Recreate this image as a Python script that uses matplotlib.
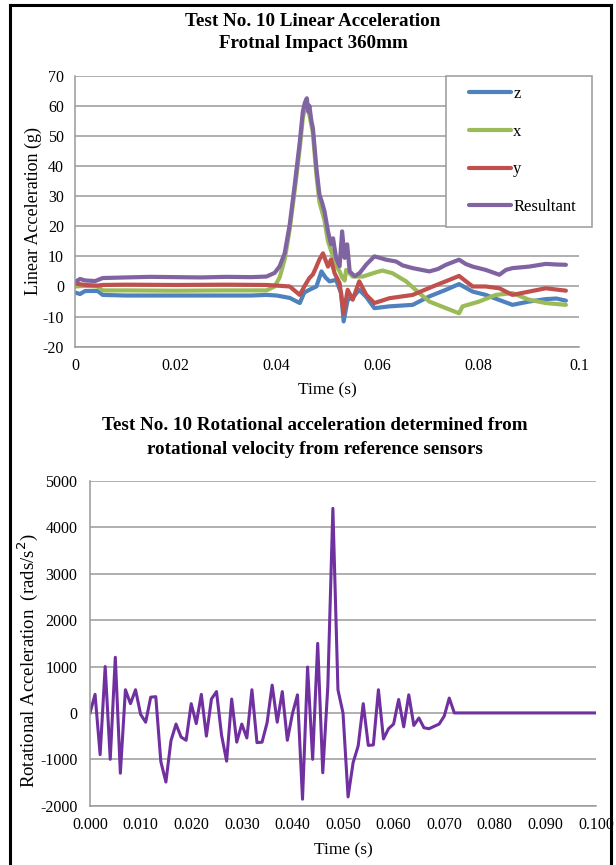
import matplotlib
matplotlib.use('Agg')
import matplotlib.pyplot as plt
from matplotlib.lines import Line2D
from matplotlib.patches import Rectangle

plt.rcParams['font.family'] = ['Liberation Serif', 'DejaVu Serif']
plt.rcParams['axes.unicode_minus'] = False

# ---- top chart: linear acceleration (g) ----
t_z = [0, 0.001, 0.002, 0.0045, 0.0055, 0.010, 0.020, 0.030, 0.035, 0.038, 0.040,
       0.0426, 0.0446, 0.0455, 0.0465, 0.0479, 0.0489, 0.0497, 0.0505, 0.0518, 0.0528,
       0.0533, 0.0541, 0.0552, 0.0564, 0.0578, 0.0594, 0.0624, 0.067, 0.0703, 0.0736,
       0.0762, 0.0789, 0.0815, 0.0842, 0.0868, 0.0901, 0.0934, 0.0955, 0.0974]
z_vals = [-2, -2.5, -1.5, -1.5, -2.8, -3, -3, -3, -3, -2.8, -3,
          -3.8, -5.5, -2, -1.1, 0, 5, 3, 1.7, 2.2, -2.2,
          -11.6, -4.4, -3.5, -1.1, -3.5, -7.2, -6.6, -6.1, -3.3, -1.1,
          0.8, -1.7, -2.8, -4.5, -6.1, -5, -4.2, -4.0, -4.7]

t_x = [0, 0.002, 0.0045, 0.0055, 0.010, 0.020, 0.030, 0.038, 0.0396, 0.0406, 0.0416,
       0.0426, 0.0436, 0.0446, 0.0452, 0.0456, 0.046, 0.0465, 0.0472, 0.0479, 0.0485,
       0.0495, 0.0502, 0.0508, 0.0518, 0.0525, 0.053, 0.0535, 0.0538, 0.0551, 0.0571,
       0.0597, 0.061, 0.063, 0.0657, 0.0683, 0.0703, 0.0736, 0.0762, 0.0769, 0.0802,
       0.0835, 0.0868, 0.0901, 0.0934, 0.0974]
x_vals = [0, 0.2, 0, -1.3, -1.3, -1.4, -1.3, -1.3, 0, 3, 9,
          19, 32, 46, 56, 59, 61, 57, 51, 37, 28,
          22, 15, 12, 7, 5, 3, 2, 5.5, 3.3, 3.3,
          4.7, 5.3, 4.4, 1.7, -2.2, -5, -7.2, -8.9, -6.6, -5,
          -2.8, -2.2, -4.4, -5.5, -6.1]

t_y = [0, 0.002, 0.0045, 0.0055, 0.010, 0.020, 0.030, 0.038, 0.040, 0.0426, 0.0446,
       0.0455, 0.0465, 0.0472, 0.0479, 0.0485, 0.0492, 0.0502, 0.0508, 0.0515, 0.0525,
       0.0533, 0.0541, 0.0551, 0.0564, 0.0578, 0.0594, 0.0624, 0.067, 0.071, 0.0762,
       0.0789, 0.0815, 0.0842, 0.0868, 0.0901, 0.0934, 0.0974]
y_vals = [1, 0.5, 0.3, 0.5, 0.6, 0.5, 0.6, 0.5, 0.3, 0, -2.8,
          0, 2.8, 4, 6.6, 9, 11, 6.6, 9, 4.4, 1.1,
          -8.9, -1.1, -4.4, 1.7, -2.8, -5.5, -3.9, -2.8, 0, 3.5,
          0, 0, -0.6, -2.8, -1.7, -0.6, -1.4]

t_res = [0, 0.001, 0.002, 0.004, 0.0055, 0.010, 0.015, 0.020, 0.025, 0.030, 0.035,
         0.038, 0.0396, 0.0406, 0.0416, 0.0426, 0.0436, 0.0446, 0.0452, 0.0456, 0.046,
         0.0463, 0.0465, 0.0469, 0.0472, 0.0476, 0.0479, 0.0485, 0.049, 0.0495, 0.0502,
         0.0508, 0.0512, 0.0518, 0.0525, 0.053, 0.0535, 0.054, 0.0545, 0.0555, 0.0565,
         0.0578, 0.0594, 0.0605, 0.0617, 0.0637, 0.065, 0.067, 0.0703, 0.072, 0.0736,
         0.0762, 0.0775, 0.0789, 0.0815, 0.0842, 0.0855, 0.0868, 0.0901, 0.0934, 0.0955,
         0.0974]
res_vals = [1.5, 2.5, 2, 1.8, 2.8, 3, 3.2, 3.1, 3, 3.2, 3.1,
            3.3, 4.5, 6.7, 11, 20.5, 33.8, 48, 58, 61, 62.5,
            58, 60, 55, 52.6, 45, 39.3, 30.5, 28, 25, 18.3,
            14, 16, 9.5, 6.7, 18.3, 9.5, 14, 5, 3.4, 4.5,
            7.3, 10, 9.5, 8.9, 8.3, 7, 6.1, 5, 5.8, 7.2,
            8.9, 7.5, 6.6, 5.5, 3.9, 5.5, 6.1, 6.6, 7.5, 7.3,
            7.2]

series_labels = ['z', 'x', 'y', 'Resultant']
series_colors = ['#4F81BD', '#9BBB59', '#C0504D', '#8064A2']

# ---- bottom chart: rotational acceleration, one value per ms ----
rot_time = [i / 1000 for i in range(0, 101)]
rot_acc = [0, 400, -900, 1000, -1000, 1200, -1300, 500, 200, 500,
           -30, -200, 340, 350, -1050, -1490, -600, -240, -520, -590,
           200, -230, 400, -500, 300, 460, -480, -1040, 300, -630,
           -240, -540, 500, -640, -630, -210, 600, -200, 460, -590,
           -20, 390, -1860, 990, -1000, 1500, -1290, 570, 4410, 500,
           0, -1810, -1070, -710, 200, -700, -690, 500, -560, -340,
           -240, 290, -300, 390, -270, -110, -320, -340, -290, -240,
           -70, 320] + [0] * 29

GRID = '#9A9A9A'
W, H = 616, 865
fig = plt.figure(figsize=(W / 100, H / 100), dpi=100)


def style_axes(ax):
    for side in ('top', 'right'):
        ax.spines[side].set_visible(False)
    for side in ('left', 'bottom'):
        ax.spines[side].set_color(GRID)
        ax.spines[side].set_linewidth(1.1)
    ax.yaxis.grid(True, color=GRID, linewidth=1.1)
    ax.set_axisbelow(True)
    ax.tick_params(length=0, labelsize=11.5)


# top axes
ax1 = fig.add_axes([75 / W, 1 - 346.7 / H, 504 / W, 271 / H])
style_axes(ax1)
ax1.tick_params(axis='x', pad=8)
ax1.tick_params(axis='y', pad=8)
for tt, vv, lab, col in zip([t_z, t_x, t_y, t_res], [z_vals, x_vals, y_vals, res_vals],
                            series_labels, series_colors):
    ax1.plot(tt, vv, color=col, linewidth=3.0, label=lab, solid_capstyle='round')
ax1.set_xlim(0, 0.1)
ax1.set_ylim(-20, 70)
ax1.set_xticks([0, 0.02, 0.04, 0.06, 0.08, 0.1])
ax1.set_xticklabels(['0', '0.02', '0.04', '0.06', '0.08', '0.1'])
ax1.set_yticks(range(-20, 71, 10))
ax1.set_xlabel('Time (s)', fontsize=12.5, labelpad=6)
ax1.set_ylabel('Linear Acceleration (g)', fontsize=13, va='center')
ax1.yaxis.set_label_coords((33 - 75) / 504, 0.5)

# legend box
fig.patches.append(Rectangle((445.7 / W, 1 - 226.7 / H), 146.3 / W, 151 / H,
                             transform=fig.transFigure, facecolor='white',
                             edgecolor=GRID, linewidth=1.1, zorder=4))
handles, labels = ax1.get_legend_handles_labels()
fig.legend(handles, labels, loc='upper left', bbox_to_anchor=(469 / W, 1 - 86 / H),
           frameon=False, fontsize=12, labelspacing=1.3, handlelength=2.5,
           handletextpad=0.15, borderpad=0, borderaxespad=0)

fig.text(313 / W, 1 - 21 / H, 'Test No. 10 Linear Acceleration', ha='center', va='center',
         fontsize=13.7, fontweight='bold')
fig.text(313 / W, 1 - 44 / H, 'Frotnal Impact 360mm', ha='center', va='center',
         fontsize=13.7, fontweight='bold')

# bottom axes
ax2 = fig.add_axes([90 / W, 1 - 805.7 / H, 506 / W, 324.7 / H])
style_axes(ax2)
ax2.tick_params(axis='x', pad=8)
ax2.tick_params(axis='y', pad=9)
ax2.plot(rot_time, rot_acc, color='#7030A0', linewidth=2.2)
ax2.set_xlim(0, 0.1)
ax2.set_ylim(-2000, 5000)
ax2.set_xticks([i / 100 for i in range(11)])
ax2.set_xticklabels(['%.3f' % (i / 100) for i in range(11)])
ax2.set_yticks(range(-2000, 5001, 1000))
ax2.set_xlabel('Time (s)', fontsize=12.5, labelpad=7)
ax2.set_ylabel('Rotational Acceleration  (rads/s$^2$)', fontsize=13.5, va='center')
ax2.yaxis.set_label_coords((28 - 90) / 506, (805.7 - 661) / 324.7)

fig.text(315 / W, 1 - 426 / H, 'Test No. 10 Rotational acceleration determined from',
         ha='center', va='center', fontsize=13.7, fontweight='bold')
fig.text(315 / W, 1 - 450 / H, 'rotational velocity from reference sensors',
         ha='center', va='center', fontsize=13.7, fontweight='bold')

# black frame round the figure
for xs, ys in [([9.5 / W, 9.5 / W], [0, 1 - 5 / H]),
               ([611 / W, 611 / W], [0, 1 - 5 / H]),
               ([9.5 / W, 611 / W], [1 - 5 / H, 1 - 5 / H])]:
    fig.lines.append(Line2D(xs, ys, transform=fig.transFigure, color='black', linewidth=2.2))

fig.savefig('out.png', dpi=100)
